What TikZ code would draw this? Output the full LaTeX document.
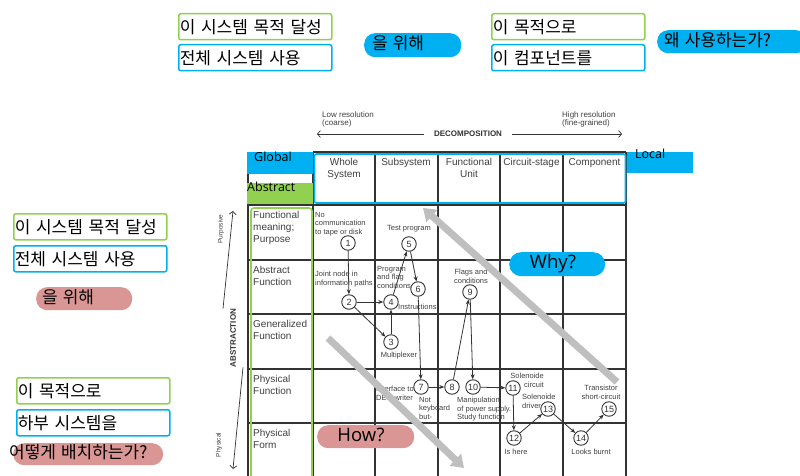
\documentclass[tikz,border=0pt]{standalone}
\usepackage{fontspec}
\setmainfont{Liberation Sans}
\newfontfamily\kr[WordSpace=1.3]{Noto Sans CJK KR}
\newfontfamily\ui{Open Sans}
\usetikzlibrary{arrows.meta}
\definecolor{bl}{HTML}{00B0F0}
\definecolor{gr}{HTML}{92D050}
\definecolor{pk}{HTML}{D99694}
\definecolor{gl}{HTML}{333333}
\definecolor{tx}{HTML}{404040}
\definecolor{ga}{HTML}{BFBFBF}
\begin{document}
\begin{tikzpicture}[x=1pt,y=-1pt,
  gridline/.style={draw=gl,line width=1.3pt},
  kbox/.style={line width=1.5pt,rounded corners=2pt,minimum height=26pt,text width=151pt,inner xsep=1pt,inner ysep=0pt,align=left,anchor=north west,font=\kr\fontsize{17}{19}\selectfont},
  pill/.style={rounded corners=11pt,minimum height=23pt,inner sep=0pt,anchor=north west},
  ktext/.style={font=\kr\fontsize{17}{19}\selectfont,inner sep=0pt,anchor=west},
  rowlbl/.style={font=\fontsize{10}{12}\selectfont,text=tx,align=left,inner sep=0pt,anchor=north west},
  collbl/.style={font=\fontsize{10}{12}\selectfont,text=tx,align=center,inner sep=0pt,anchor=north},
  ann/.style={font=\fontsize{7.5}{8.5}\selectfont,text=tx,inner sep=0pt},
  num/.style={circle,draw=gl,line width=0.9pt,minimum size=14.5pt,inner sep=0pt,font=\fontsize{9}{9}\selectfont,text=gl,fill=white},
  arr/.style={draw=gl,line width=0.8pt,-{Stealth[length=5pt,width=4pt]}},
  axarr/.style={draw=gl,line width=0.7pt,-{Straight Barb[length=3pt,width=7pt]}},
  bigarr/.style={draw=ga,line width=7pt,-{Triangle[length=12pt,width=16pt]}},
  uilbl/.style={font=\ui\fontsize{12.5}{14}\selectfont,inner sep=0pt}
]
\clip (0,0) rectangle (800,476);
\fill[white] (0,0) rectangle (800,476);

% ---- grid ----
\foreach \y in {205,260,314,369,423} \draw[gridline] (248,\y) -- (626,\y);
\draw[gridline] (313,152) -- (626,152);
\foreach \x in {248,313,375,438,500,563,626} \draw[gridline] (\x,152) -- (\x,480);

% ---- header fills ----
\fill[bl] (247,152) rectangle (313,174);
\fill[gr] (247,183) rectangle (313,204);
\fill[bl] (627,152) rectangle (693,173);
\draw[bl,line width=1.6pt,rounded corners=2pt] (314.5,154) rectangle (625.5,203);
\draw[gr,line width=1.6pt,rounded corners=3pt] (251,208) rectangle (312,495);

\node[uilbl,anchor=west] (global) at (254,157) {Global};
\node[uilbl,anchor=west] (abstract) at (247,187) {Abstract};
\node[uilbl,anchor=west] (local) at (635,154) {Local};

% ---- column headers ----
\node[collbl] (c1) at (344,158) {Whole\\System};
\node[collbl] (c2) at (406,158) {Subsystem};
\node[collbl] (c3) at (469,158) {Functional\\Unit};
\node[collbl] (c4) at (531.5,158) {Circuit-stage};
\node[collbl] (c5) at (594.5,158) {Component};

% ---- row labels ----
\node[rowlbl] (r1) at (253,211) {Functional\\meaning;\\Purpose};
\node[rowlbl] (r2) at (253,266) {Abstract\\Function};
\node[rowlbl] (r3) at (253,320) {Generalized\\Function};
\node[rowlbl] (r4) at (253,375) {Physical\\Function};
\node[rowlbl] (r5) at (253,429) {Physical\\Form};

% ---- decomposition axis ----
\node[font=\bfseries\fontsize{8}{8}\selectfont,text=gl,inner sep=0pt] (dec) at (468,134) {DECOMPOSITION};
\coordinate (decL) at (317,134);
\coordinate (decR) at (622,134);
\draw[axarr] ([xshift=-10pt]dec.west) -- (decL);
\draw[axarr] ([xshift=10pt]dec.east) -- (decR);
\node[font=\fontsize{8}{8}\selectfont,text=tx,align=left,inner sep=0pt,anchor=north west] (lowres) at (322,112) {Low resolution\\(coarse)};
\node[font=\fontsize{8}{8}\selectfont,text=tx,align=left,inner sep=0pt,anchor=north west] (highres) at (562,112) {High resolution\\(fine-grained)};

% ---- abstraction axis ----
\node[font=\bfseries\fontsize{8}{8}\selectfont,text=gl,inner sep=0pt,rotate=90] (abs) at (233,338) {ABSTRACTION};
\coordinate (absT) at (233,211);
\coordinate (absB) at (233,469);
\draw[axarr] ([xshift=-10pt]abs.east) -- (absT);
\draw[axarr] ([xshift=10pt]abs.west) -- (absB);
\node[font=\fontsize{6.5}{6.5}\selectfont,text=tx,inner sep=0pt,rotate=90] (purp) at (221,229) {Purposive};
\node[font=\fontsize{6.5}{6.5}\selectfont,text=tx,inner sep=0pt,rotate=90] (phys) at (219,445) {Physical};

% ---- numbered nodes ----
\node[num] (n1) at (348,243) {1};
\node[num] (n2) at (349,302) {2};
\node[num] (n3) at (391,342) {3};
\node[num] (n4) at (391,302) {4};
\node[num] (n5) at (409,244) {5};
\node[num] (n6) at (418,289) {6};
\node[num] (n7) at (421,387) {7};
\node[num] (n8) at (452,387) {8};
\node[num] (n9) at (470,292) {9};
\node[num] (n10) at (473,387) {10};
\node[num] (n11) at (513,388) {11};
\node[num] (n12) at (514,438) {12};
\node[num] (n13) at (548,409) {13};
\node[num] (n14) at (581,438) {14};
\node[num] (n15) at (609,409) {15};

\draw[arr] (n1) -- (n2);
\draw[arr] (n2) -- (n4);
\draw[arr] (n2) -- (n3);
\draw[arr] (n3) -- (n4);
\draw[arr] (n4) -- (n5);
\draw[arr] (n5) -- (n6);
\draw[arr] (n6) -- (n7);
\draw[arr] (n7) -- (n8);
\draw[arr] (n8) -- (n9);
\draw[arr] (n9) -- (n10);
\draw[arr] (n10) -- (n11);
\draw[arr] (n11) -- (n12);
\draw[arr] (n12) -- (n13);
\draw[arr] (n13) -- (n14);
\draw[arr] (n14) -- (n15);

% ---- annotations ----
\node[ann,align=left,anchor=north west] (a1) at (315,212) {No\\communication\\to tape or disk};
\node[ann] (a5) at (409,229) {Test program};
\node[ann,align=left,anchor=north west] (a2) at (315,271) {Joint node in\\information paths};
\node[ann,align=left,anchor=north west] (a4) at (377,266) {Program\\and flag\\conditions};
\node[ann,anchor=west] (a6) at (398,307) {Instructions};
\node[ann] (a3) at (399,356) {Multiplexer};
\node[ann,align=center,anchor=north] (a9) at (471,269) {Flags and\\conditions};
\node[ann,align=left,anchor=north west] (a7) at (376,386) {Interface to\\DEC-writer};
\node[ann,align=left,anchor=north west] (a8) at (419,397) {Not\\keyboard\\but-};
\node[ann,align=left,anchor=north west] (a10) at (457,397) {Manipulation\\of power supply.\\Study function};
\node[ann,align=right,anchor=north east] (a11) at (544,373) {Solenoide\\circuit};
\node[ann,align=left,anchor=north west] (a13) at (522,394) {Solenoide\\driver};
\node[ann,align=center,anchor=north] (a15) at (601,385) {Transistor\\short-circuit};
\node[ann] (a12) at (516,452) {Is here};
\node[ann] (a14) at (591,452) {Looks burnt};

% ---- big gray arrows ----
\coordinate (whyS) at (617,382);
\coordinate (whyE) at (423,208);
\coordinate (howS) at (328,338);
\coordinate (howE) at (464,468);
\draw[bigarr] (whyS) -- (whyE);
\draw[bigarr] (howS) -- (howE);

% ---- Why / How bubbles ----
\node[pill,fill=bl,minimum width=96pt,minimum height=24pt,rounded corners=12pt] (whyb) at (509,252) {};
\node[font=\ui\fontsize{18.5}{20}\selectfont,inner sep=0pt] (why) at (553,264) {Why?};
\node[pill,fill=pk,minimum width=97pt,minimum height=23pt] (howb) at (317,425) {};
\node[font=\ui\fontsize{18.5}{20}\selectfont,inner sep=0pt] (how) at (361,435) {How?};

% ---- top Korean labels ----
\node[kbox,draw=gr] (t1) at (178,13) {이 시스템 목적 달성};
\node[kbox,draw=bl] (t2) at (178,44) {전체 시스템 사용};
\node[pill,fill=bl,minimum width=97pt,minimum height=24pt] (t3b) at (364,33) {};
\node[ktext] (t3) at (372,43) {을 위해};
\node[kbox,draw=gr] (t4) at (491,13) {이 목적으로};
\node[kbox,draw=bl] (t5) at (491,44) {이 컴포넌트를};
\node[pill,fill=bl,minimum width=150pt,minimum height=23pt] (t6b) at (657,30) {};
\node[ktext] (t6) at (664,40) {왜 사용하는가?};

% ---- left Korean labels ----
\node[kbox,draw=gr] (l1) at (13,213) {이 시스템 목적 달성};
\node[kbox,draw=bl] (l2) at (13,245) {전체 시스템 사용};
\node[pill,fill=pk,minimum width=96pt,minimum height=23pt] (l3b) at (36,287) {};
\node[ktext] (l3) at (42,297) {을 위해};
\node[kbox,draw=gr] (l4) at (16,377) {이 목적으로};
\node[kbox,draw=bl] (l5) at (16,409) {하부 시스템을};
\node[pill,fill=pk,minimum width=150pt,minimum height=22pt] (l6b) at (13,443) {};
\node[ktext] (l6) at (9,452) {어떻게 배치하는가?};
\end{tikzpicture}
\end{document}
